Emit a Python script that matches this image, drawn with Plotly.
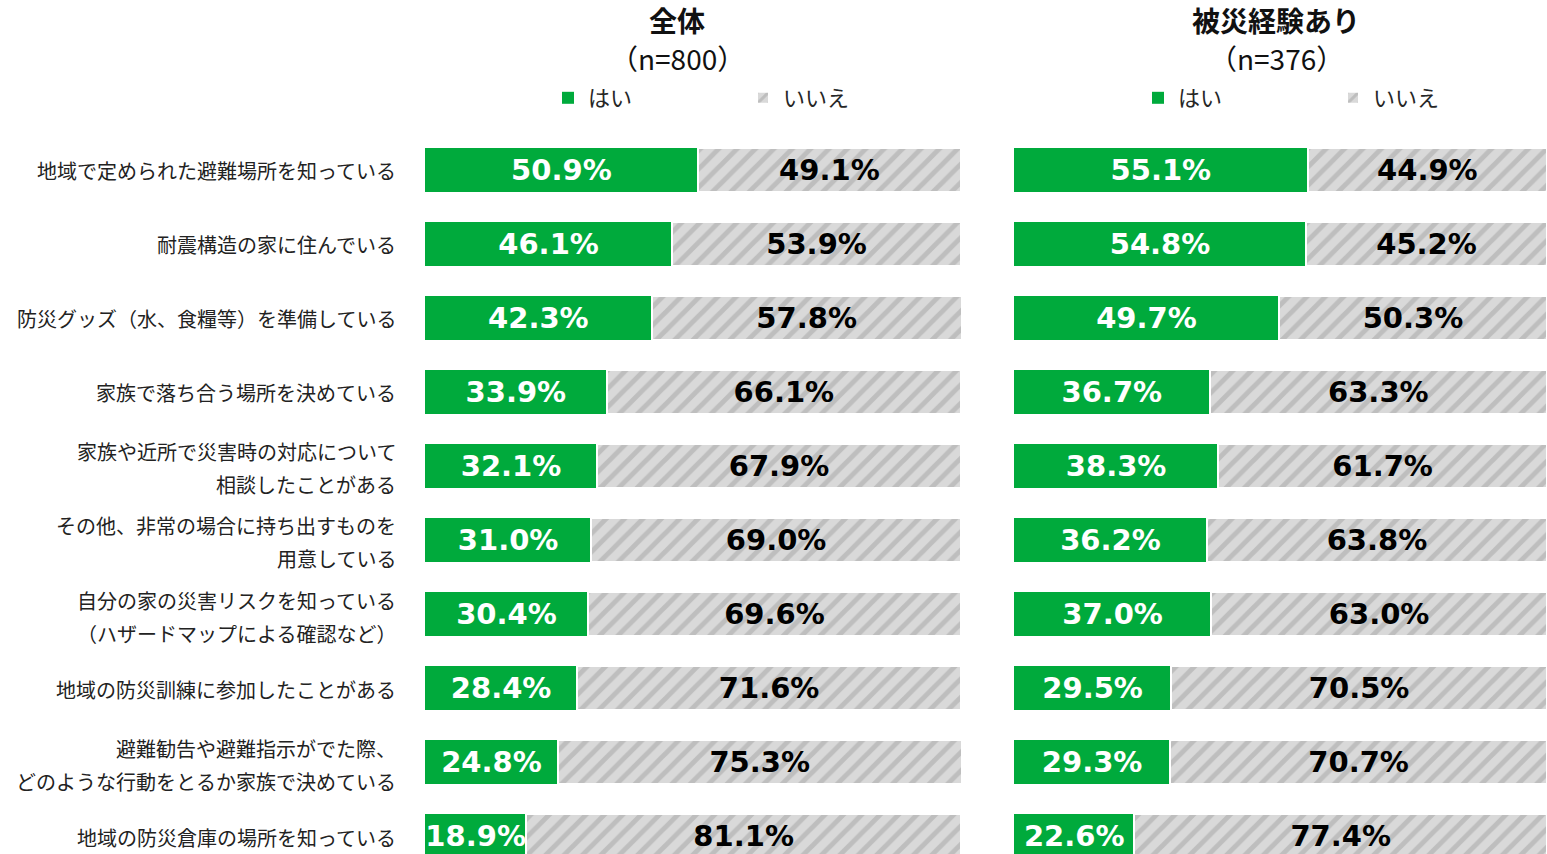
import plotly.graph_objects as go

categories = [
    "地域で定められた避難場所を知っている",
    "耐震構造の家に住んでいる",
    "防災グッズ（水、食糧等）を準備している",
    "家族で落ち合う場所を決めている",
    "家族や近所で災害時の対応について\n相談したことがある",
    "その他、非常の場合に持ち出すものを\n用意している",
    "自分の家の災害リスクを知っている\n（ハザードマップによる確認など）",
    "地域の防災訓練に参加したことがある",
    "避難勧告や避難指示がでた際、\nどのような行動をとるか家族で決めている",
    "地域の防災倉庫の場所を知っている",
]
all_yes = [50.9, 46.1, 42.3, 33.9, 32.1, 31.0, 30.4, 28.4, 24.8, 18.9]
all_no = [49.1, 53.9, 57.8, 66.1, 67.9, 69.0, 69.6, 71.6, 75.3, 81.1]
exp_yes = [55.1, 54.8, 49.7, 36.7, 38.3, 36.2, 37.0, 29.5, 29.3, 22.6]
exp_no = [44.9, 45.2, 50.3, 63.3, 61.7, 63.8, 63.0, 70.5, 70.7, 77.4]
panel_titles = ["全体", "被災経験あり"]
panel_n = ["（n=800）", "（n=376）"]
series_names = ["はい", "いいえ"]

W, H = 1547, 854
TOP = 130
PLOT_H = H - TOP
JP = "Noto Sans CJK JP"
NUM = "DejaVu Sans"
GREEN = "#00aa3c"
GRAY_BG = "#d9d9d9"
GRAY_FG = "#a3a3a3"


def py(px):
    return 1 + (TOP - px) / PLOT_H


def pxx(px):
    return px / W


fig = go.Figure()
panels = [(all_yes, all_no, "x", "legend"), (exp_yes, exp_no, "x2", "legend2")]
for yes, no, xa, lg in panels:
    fig.add_trace(go.Bar(
        y=categories, x=yes, orientation="h", name=series_names[0],
        xaxis=xa, yaxis="y", legend=lg,
        marker=dict(color=GREEN, line=dict(width=0)),
        texttemplate="%{x:.1f}%", textposition="inside", insidetextanchor="middle",
        textfont=dict(family=NUM, size=29, color="white", weight="bold"),
        hoverinfo="skip",
    ))
    fig.add_trace(go.Bar(
        y=categories, x=no, orientation="h", name=series_names[1],
        xaxis=xa, yaxis="y", legend=lg,
        marker=dict(color=GRAY_BG, line=dict(width=2, color="white"),
                    pattern=dict(shape="/", fgcolor=GRAY_FG, bgcolor=GRAY_BG,
                                 size=13, solidity=0.38, fillmode="overlay")),
        texttemplate="%{x:.1f}%", textposition="inside", insidetextanchor="middle",
        textfont=dict(family=NUM, size=29, color="black", weight="bold"),
        hoverinfo="skip",
    ))

annotations = []
for i, cat in enumerate(categories):
    lines = cat.split("\n")
    shifts = [-1] if len(lines) == 1 else [14, -19]
    for line, s in zip(lines, shifts):
        annotations.append(dict(
            text=line, x=pxx(398), xref="paper", xanchor="right",
            y=cat, yref="y", yanchor="middle", yshift=s, showarrow=False,
            font=dict(family=JP, size=20, color="#222222"),
        ))

title_x = [677, 1276]
for t, n, cx in zip(panel_titles, panel_n, title_x):
    annotations.append(dict(
        text=f"<b>{t}</b>", x=pxx(cx), xref="paper", xanchor="center",
        y=py(20), yref="paper", yanchor="middle", showarrow=False,
        font=dict(family=JP, size=28, color="#111111"),
    ))
    annotations.append(dict(
        text=n, x=pxx(cx), xref="paper", xanchor="center",
        y=py(58), yref="paper", yanchor="middle", showarrow=False,
        font=dict(family=JP, size=28, color="#111111"),
    ))

axis_common = dict(range=[0, 100], showgrid=False, zeroline=False,
                   showticklabels=False, showline=False, fixedrange=True)
legend_common = dict(orientation="h", yanchor="middle", y=py(98), xanchor="left",
                     font=dict(family=JP, size=22, color="#262626"),
                     entrywidth=150, entrywidthmode="pixels",
                     bgcolor="rgba(0,0,0,0)", traceorder="normal")

fig.update_layout(
    width=W, height=H,
    margin=dict(l=0, r=0, t=TOP, b=0),
    paper_bgcolor="white", plot_bgcolor="white",
    barmode="stack", bargap=0.405,
    uniformtext=dict(minsize=29, mode="show"),
    xaxis=dict(domain=[pxx(425), pxx(961)], **axis_common),
    xaxis2=dict(domain=[pxx(1014), 1.0], **axis_common),
    yaxis=dict(range=[9.243, -0.54], showticklabels=False, showgrid=False,
               zeroline=False, fixedrange=True),
    legend=dict(x=pxx(548), **legend_common),
    legend2=dict(x=pxx(1138), **legend_common),
    annotations=annotations,
    showlegend=True,
)

fig.write_html(
    "out.html",
    config={"displayModeBar": False},
    post_script="document.body.style.margin='0';document.body.style.overflow='hidden';",
)
